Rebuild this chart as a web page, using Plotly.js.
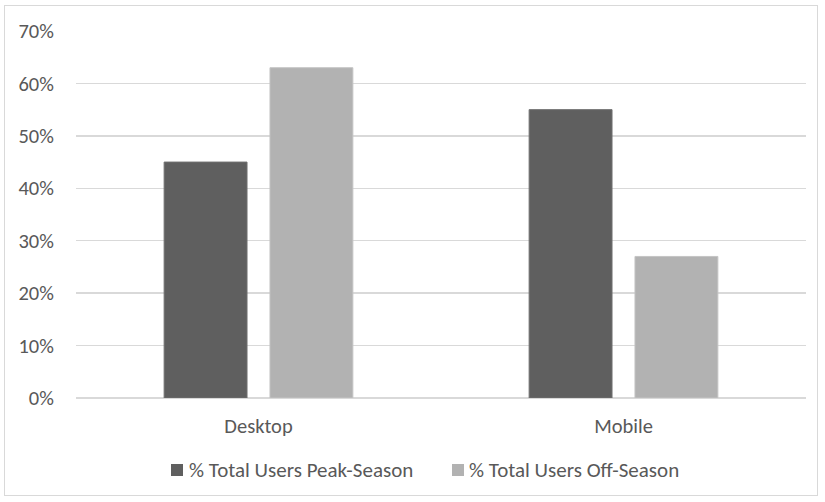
<!DOCTYPE html>
<html><head><meta charset="utf-8">
<script src="https://cdn.plot.ly/plotly-3.0.1.min.js"></script>
<style>
html,body{margin:0;padding:0;background:#fff;}
#wrap{position:relative;width:825px;height:502px;}
#chart{width:825px;height:502px;}
#frame{position:absolute;left:4px;top:5px;width:814px;height:491px;border:1.5px solid #d9d9d9;pointer-events:none;box-sizing:border-box;}
</style></head>
<body>
<div id="wrap"><div id="chart"></div><div id="frame"></div></div>
<script>
const categories = ["Desktop", "Mobile"];
const peakSeason = [0.45, 0.55];
const offSeason = [0.63, 0.27];
const seriesNames = ["% Total Users Peak-Season", "% Total Users Off-Season"];
const seriesColors = ["#5f5f5f", "#b2b2b2"];
const yTickVals = [0, 0.1, 0.2, 0.3, 0.4, 0.5, 0.6, 0.7];

const font = {family: "Carlito, Calibri, Lato, 'Liberation Sans', sans-serif", size: 20.5, color: "#595959"};
const legendFont = Object.assign({}, font, {size: 21});

const traces = [
  {type: "bar", x: categories, y: peakSeason, name: seriesNames[0],
   marker: {color: seriesColors[0], line: {color: "#707070", width: 1}}, hoverinfo: "none"},
  {type: "bar", x: categories, y: offSeason, name: seriesNames[1],
   marker: {color: seriesColors[1], line: {color: "#c4c4c4", width: 1}}, hoverinfo: "none"}
];

// plot area in pixels (for placing the legend decoration)
const L = 76, R = 806, T = 31, B = 398;
const px = v => (v - L) / (R - L);
const py = v => (B - v) / (B - T);

const legendItems = [
  {sq: 171, tx: 187},
  {sq: 452, tx: 467}
];
const shapes = legendItems.map((it, i) => ({
  type: "rect", xref: "paper", yref: "paper",
  x0: px(it.sq), x1: px(it.sq + 12), y0: py(464), y1: py(476),
  fillcolor: seriesColors[i], line: {width: 0}
}));
const annotations = legendItems.map((it, i) => ({
  xref: "paper", yref: "paper", x: px(it.tx), y: py(470),
  xanchor: "left", yanchor: "middle", showarrow: false,
  text: seriesNames[i], font: legendFont
}));

const layout = {
  width: 825, height: 502, autosize: false,
  margin: {l: L, r: 825 - R, t: T, b: 502 - B, autoexpand: false},
  paper_bgcolor: "#fff", plot_bgcolor: "#fff",
  font: font,
  barmode: "group", bargap: 0.42, bargroupgap: 0.217,
  showlegend: false,
  shapes: shapes, annotations: annotations,
  xaxis: {showgrid: false, zeroline: false, showline: false,
          ticks: "outside", ticklen: 9, tickcolor: "rgba(0,0,0,0)",
          tickfont: font, automargin: false},
  yaxis: {range: [0, 0.7], tickvals: yTickVals, tickformat: ".0%",
          showgrid: true, gridcolor: "#d9d9d9", gridwidth: 1.3,
          zeroline: true, zerolinecolor: "#d9d9d9", zerolinewidth: 1.3,
          showline: false, ticks: "outside", ticklen: 17, tickcolor: "rgba(0,0,0,0)",
          tickfont: font, automargin: false}
};

Plotly.newPlot("chart", traces, layout, {staticPlot: true, displayModeBar: false});
</script>
</body></html>
